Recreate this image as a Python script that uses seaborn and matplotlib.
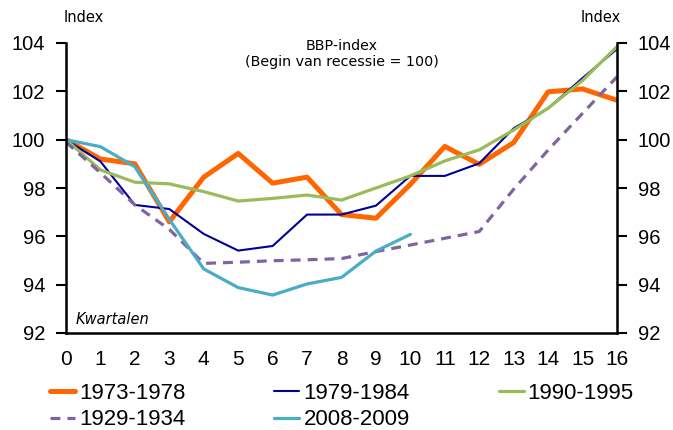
import numpy as np
import pandas as pd
import seaborn as sns
import matplotlib
matplotlib.use("Agg")
import matplotlib.pyplot as plt

quarters = list(range(17))
s1973 = [100, 99.2, 99.0, 96.6, 98.45, 99.43, 98.2, 98.45, 96.9, 96.75, 98.15, 99.72, 98.98, 99.88, 101.98, 102.1, 101.63]
s1979 = [100, 99.1, 97.3, 97.13, 96.1, 95.41, 95.6, 96.9, 96.9, 97.27, 98.5, 98.5, 99.02, 100.47, 101.3, 102.55, 103.75]
s1990 = [100, 98.75, 98.24, 98.17, 97.85, 97.46, 97.57, 97.71, 97.5, 98.0, 98.5, 99.12, 99.58, 100.4, 101.3, 102.45, 103.85]
s1929 = [99.9, 98.63, 97.3, 96.29, 94.88, 94.93, 94.99, 95.03, 95.08, 95.37, 95.64, 95.92, 96.2, 97.95, 99.57, 101.09, 102.6]
s2008 = [100, 99.71, 98.88, 96.7, 94.65, 93.88, 93.57, 94.03, 94.3, 95.39, 96.08]

series_names = ["1973-1978", "1979-1984", "1990-1995", "1929-1934", "2008-2009"]
series_vals = [s1973, s1979, s1990, s1929, s2008]
colors = ["#FF6600", "#000099", "#9BBB59", "#8064A2", "#4BACC6"]
widths = [3.6, 1.5, 2.3, 2.3, 2.3]

y_ticks = [92, 94, 96, 98, 100, 102, 104]

sns.set_style("white")
plt.rcParams["text.color"] = "black"
plt.rcParams["xtick.color"] = "black"
plt.rcParams["ytick.color"] = "black"
BIG = "Liberation Sans"
fig = plt.figure(figsize=(6.73, 4.30), dpi=100)
ax = fig.add_axes([66/673, 1-333/430, (617-66)/673, (333-43)/430])

for name, vals, c, lw in zip(series_names, series_vals, colors, widths):
    df = pd.DataFrame({"q": quarters[:len(vals)], "v": vals})
    sns.lineplot(data=df, x="q", y="v", ax=ax, color=c, linewidth=lw, label=name)
    if name == "1929-1934":
        ax.lines[-1].set_dashes((3.1, 2.2))

ax.set_xlim(0, 16)
ax.set_ylim(92, 104)
ax.set_xticks(quarters)
ax.set_xticklabels([str(q) for q in quarters], fontfamily=BIG, fontsize=15)
ax.set_yticks(y_ticks)
ax.set_yticklabels([str(t) for t in y_ticks], fontfamily=BIG, fontsize=14.5)
ax.yaxis.set_ticks_position("both")
ax.tick_params(axis="y", which="both", direction="out", length=7, width=1.5,
               labelright=True, labelleft=True, pad=8, colors="black")
ax.tick_params(axis="x", direction="out", length=6, width=1.5, pad=6, colors="black")
ax.set_xlabel("")
ax.set_ylabel("")
for side in ["left", "right", "bottom"]:
    ax.spines[side].set_visible(True)
    ax.spines[side].set_color("black")
    ax.spines[side].set_linewidth(1.8)
ax.spines["top"].set_visible(False)
ax.grid(False)

if ax.legend_:
    ax.legend_.remove()

handles, labels = ax.get_legend_handles_labels()
order = [0, 3, 1, 4, 2]
fig.legend([handles[i] for i in order], [labels[i] for i in order],
           loc="upper left", bbox_to_anchor=(50/673, 1-383/430), ncol=3,
           frameon=False, borderpad=0, borderaxespad=0,
           handlelength=1.13, handletextpad=0.18, columnspacing=4.0,
           labelspacing=0.24, labelcolor="black",
           prop={"family": BIG, "size": 16})

fig.text(64/673, 1-18/430, "Index", fontsize=10.5, va="center", ha="left", fontfamily="DejaVu Sans", color="black")
fig.text(621/673, 1-18/430, "Index", fontsize=10.5, va="center", ha="right", fontfamily="DejaVu Sans", color="black")
fig.text(342/673, 1-54/430, "BBP-index\n(Begin van recessie = 100)", fontsize=10.3,
         ha="center", va="center", fontfamily="DejaVu Sans", linespacing=1.2, color="black")
ax.text(0.017, 0.045, "Kwartalen", transform=ax.transAxes, fontsize=10.5,
        style="italic", ha="left", va="center", fontfamily="DejaVu Sans", color="black")

fig.savefig("out.png", dpi=100)
